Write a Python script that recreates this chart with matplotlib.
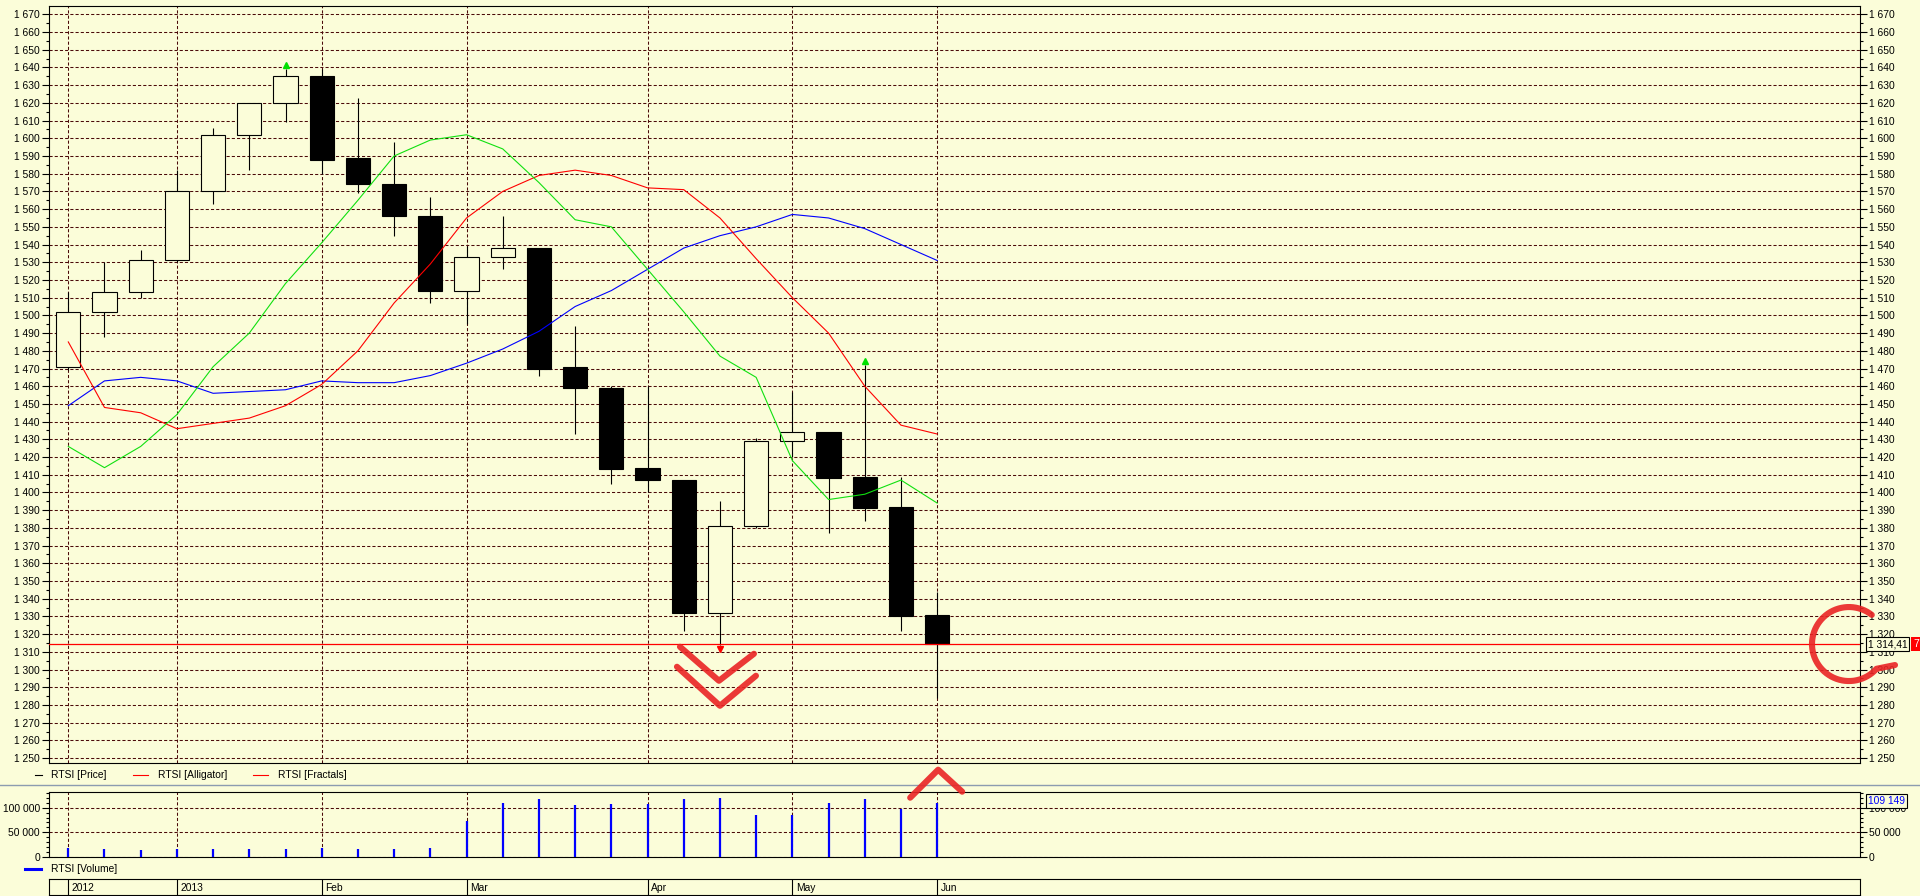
import matplotlib
matplotlib.use('Agg')
import matplotlib.pyplot as plt
import numpy as np
from matplotlib.patches import Rectangle
from matplotlib.lines import Line2D
from matplotlib.transforms import Affine2D
from matplotlib.ticker import MultipleLocator, FixedLocator, FuncFormatter

# --- данные RTSI (недельные свечи) ---
opens = [1471, 1502, 1513, 1531, 1570, 1602, 1620, 1635, 1589, 1574, 1556, 1514, 1533,
         1538, 1471, 1459, 1414, 1407, 1332, 1381, 1429, 1434, 1409, 1392, 1331]
highs = [1513, 1530, 1537, 1582, 1606, 1620, 1639, 1639, 1623, 1598, 1567, 1539, 1556,
         1538, 1494, 1460, 1460, 1407, 1395, 1431, 1457, 1434, 1472, 1409, 1344]
lows = [1469, 1488, 1510, 1530, 1563, 1582, 1609, 1580, 1569, 1545, 1507, 1495, 1526,
        1466, 1433, 1405, 1400, 1322, 1314, 1380, 1420, 1377, 1384, 1322, 1284]
closes = [1502, 1513, 1531, 1570, 1602, 1620, 1635, 1588, 1574, 1556, 1514, 1533, 1538,
          1470, 1459, 1413, 1407, 1332, 1381, 1429, 1434, 1408, 1391, 1330, 1314.41]

# Alligator: челюсть (синяя), зубы (красная), губы (зелёная)
jaw = [1449, 1463, 1465, 1463, 1456, 1457, 1458, 1463, 1462, 1462, 1466, 1473, 1481,
       1491, 1505, 1514, 1526, 1538, 1545, 1550, 1557, 1555, 1549, 1540, 1531]
teeth = [1485, 1448, 1445, 1436, 1439, 1442, 1449, 1461, 1480, 1507, 1529, 1555, 1570,
         1579, 1582, 1579, 1572, 1571, 1555, 1532, 1510, 1490, 1460, 1438, 1433]
lips = [1426, 1414, 1426, 1444, 1471, 1490, 1518, 1541, 1565, 1590, 1599, 1602, 1594,
        1575, 1554, 1550, 1526, 1502, 1477, 1465, 1418, 1396, 1399, 1407, 1394]

fractal_up = [6, 22]
fractal_down = [18]

volumes = [17000, 16300, 14300, 15600, 16300, 16300, 16300, 17000, 16300, 16300, 18400,
           73500, 110200, 118400, 106100, 108200, 108200, 117700, 119700, 85000, 85000,
           109500, 117700, 98000, 109149]

date_idx = [0, 3, 7, 11, 16, 20, 24]
date_labels = ['2012', '2013', 'Feb', 'Mar', 'Apr', 'May', 'Jun']

last_price = 1314.41
last_volume = 109149

# --- оформление ---
BG = '#FBFDD9'
GRID = '#4B0A0A'
DASH = (0, (3, 2))
FONT = ['Liberation Sans', 'DejaVu Sans']
FS = 7.4
W, H = 1920, 896

plt.rcParams['font.family'] = FONT
plt.rcParams['font.size'] = FS


def fx(px):
    return px / W


def fy(py):
    return 1 - py / H


def thousands(v, pos=None):
    return f"{int(round(v)):,}".replace(',', ' ')


fig = plt.figure(figsize=(W / 100, H / 100), dpi=100, facecolor=BG)

L, R = 49, 1860
ax = fig.add_axes([fx(L), fy(762.7), fx(R - L), fy(6) - fy(762.7)], facecolor=BG)
vax = fig.add_axes([fx(L), fy(857), fx(R - L), fy(792.3) - fy(857)], facecolor=BG, sharex=ax)
dax = fig.add_axes([fx(L), fy(895), fx(R - L), fy(878.5) - fy(895)], facecolor=BG, sharex=ax)

x = np.arange(len(opens))
ax.set_xlim(-0.533, 49.49)
ax.set_ylim(1247.4, 1674.7)

for a in (ax, vax, dax):
    for s in a.spines.values():
        s.set_color('black')
        s.set_linewidth(0.8)
    a.tick_params(axis='x', which='both', bottom=False, labelbottom=False)

# ось цен
ax.yaxis.set_major_locator(MultipleLocator(10))
ax.yaxis.set_minor_locator(MultipleLocator(5))
ax.yaxis.set_major_formatter(FuncFormatter(thousands))
ax.tick_params(axis='y', which='both', left=True, right=True, labelleft=True,
               labelright=True, direction='out', labelsize=FS, width=0.8, pad=1.5)
ax.tick_params(axis='y', which='major', length=5)
ax.tick_params(axis='y', which='minor', length=2.5)
ax.yaxis.grid(True, which='major', color=GRID, linestyle=DASH, linewidth=0.75)
ax.set_axisbelow(True)

for i in date_idx:
    ax.axvline(i, color=GRID, linestyle=DASH, linewidth=0.75, zorder=0.5)
    vax.axvline(i, color=GRID, linestyle=DASH, linewidth=0.75, zorder=0.5)

# свечи
bw = 0.67
for i in x:
    o, h, l, c = opens[i], highs[i], lows[i], closes[i]
    ax.vlines(i, l, h, color='black', linewidth=0.8, zorder=2)
    fc = 'black' if c < o else BG
    ax.add_patch(Rectangle((i - bw / 2, min(o, c)), bw, abs(c - o), facecolor=fc,
                           edgecolor='black', linewidth=0.8, zorder=3))

ax.plot(x, jaw, color='#0000FF', linewidth=0.8, zorder=4)
ax.plot(x, teeth, color='#FF0000', linewidth=0.8, zorder=4)
ax.plot(x, lips, color='#10E010', linewidth=0.8, zorder=4)

# фракталы
ax.plot(fractal_up, [highs[i] + 2.5 for i in fractal_up], linestyle='none', marker='^',
        markersize=5, color='#00E000', zorder=5)
ax.plot(fractal_down, [lows[i] - 2.5 for i in fractal_down], linestyle='none', marker='v',
        markersize=5, color='#FF0000', zorder=5)

# линия последней цены
ax.axhline(last_price, color='#FF0000', linewidth=0.9, zorder=4.5)

# объём
vax.set_ylim(-500, 131400)
vax.vlines(x, 0, volumes, color='#0000FF', linewidth=1.6, zorder=3)
vax.yaxis.set_major_locator(FixedLocator([0, 50000, 100000]))
vax.yaxis.set_minor_locator(MultipleLocator(10000))
vax.yaxis.set_major_formatter(FuncFormatter(thousands))
vax.tick_params(axis='y', which='both', left=True, right=True, labelleft=True,
                labelright=True, direction='out', labelsize=FS, width=0.8, pad=1.5)
vax.tick_params(axis='y', which='major', length=5)
vax.tick_params(axis='y', which='minor', length=2.5)
vax.yaxis.grid(True, which='major', color=GRID, linestyle=DASH, linewidth=0.75)
vax.set_axisbelow(True)

# строка дат
dax.set_ylim(0, 1)
dax.set_yticks([])
for i, lab in zip(date_idx, date_labels):
    dax.axvline(i, color='black', linewidth=0.8)
    dax.text(i + 0.1, 0.45, lab, fontsize=FS, va='center', ha='left')

# легенды
legend_y = fy(775)
for x0, x1, col, lab in [(35, 42, 'black', 'RTSI [Price]'),
                         (133, 148, '#FF0000', 'RTSI [Alligator]'),
                         (253, 268, '#FF0000', 'RTSI [Fractals]')]:
    fig.add_artist(Line2D([fx(x0), fx(x1)], [legend_y, legend_y], color=col,
                          linewidth=0.8, transform=fig.transFigure))
    fig.text(fx(x1 + 9 if x0 == 35 else x1 + 10), legend_y, lab, fontsize=FS,
             va='center', ha='left')
vol_leg_y = fy(869.3)
fig.add_artist(Line2D([fx(25), fx(41)], [vol_leg_y, vol_leg_y], color='#0000FF',
                      linewidth=2.2, transform=fig.transFigure))
fig.text(fx(51), vol_leg_y, 'RTSI [Volume]', fontsize=FS, va='center', ha='left')

fig.add_artist(Line2D([0, 1], [fy(785), fy(785)], color='#8C9CB0', linewidth=1.0,
                      transform=fig.transFigure))

# метки текущих значений справа
py = ax.transData.transform((0, last_price))[1] / fig.dpi / fig.get_figheight()
fig.text(fx(1868), py, thousands(int(last_price)) + ',' + f"{last_price:.2f}".split('.')[1],
         fontsize=FS, va='center', ha='left', zorder=10,
         bbox=dict(boxstyle='square,pad=0.15', facecolor=BG, edgecolor='black', linewidth=0.8))
fig.text(fx(1913), py, '7', fontsize=FS, va='center', ha='left', color='white', zorder=10,
         bbox=dict(boxstyle='square,pad=0.15', facecolor='#FF0000', edgecolor='none'))
vy = fy(801)
fig.text(fx(1868), vy, thousands(last_volume), fontsize=FS, va='center', ha='left',
         color='#0000FF', zorder=10,
         bbox=dict(boxstyle='square,pad=0.15', facecolor=BG, edgecolor='black', linewidth=0.8))

# красные пометки от руки (смещения в пикселях от опорных точек данных)
fig.canvas.draw()


def stroke(anchor, pts):
    ax_disp = ax.transData.transform(anchor)
    tr = Affine2D().scale(1, -1).translate(*ax_disp)
    xs, ys = zip(*pts)
    ln = Line2D(xs, ys, transform=tr, color='#EA2424', linewidth=4.4, alpha=0.9,
                solid_capstyle='round', solid_joinstyle='round', zorder=20)
    ln.set_clip_on(False)
    fig.add_artist(ln)


stroke((fractal_down[0], lows[fractal_down[0]]), [(-40, 2), (-1, 36), (34, 9)])
stroke((fractal_down[0], lows[fractal_down[0]]), [(-43, 22), (0, 61), (36, 31)])
stroke((x[-1], ax.get_ylim()[0]), [(-27, 35), (1, 7), (25, 29)])
th = np.radians(np.linspace(52, 318, 60))
arc = [(-11 + 37 * np.cos(t), -37 * np.sin(t)) for t in th] + [(35, 21)]
stroke((ax.get_xlim()[1], last_price), arc)

fig.savefig('out.png', dpi=100, facecolor=BG)
